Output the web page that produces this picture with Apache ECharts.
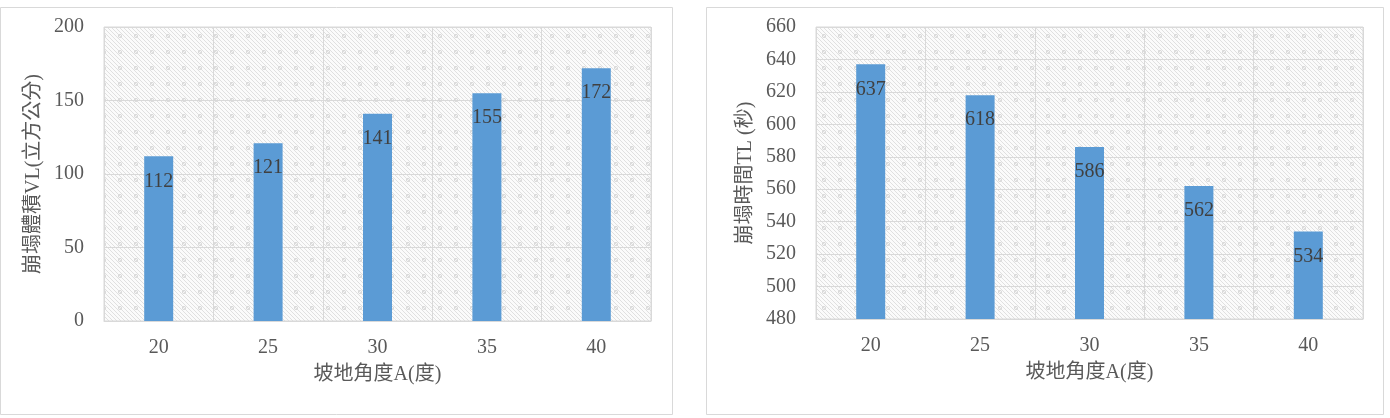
<!DOCTYPE html>
<html>
<head>
<meta charset="utf-8">
<script src="https://cdn.jsdelivr.net/npm/echarts@6/dist/echarts.min.js"></script>
<style>
  html, body { margin: 0; padding: 0; background: #fff; }
  #main { width: 1390px; height: 418px; }
</style>
</head>
<body>
<div id="main"></div>
<script>
  // 坡地角度
  var angles = ['20', '25', '30', '35', '40']
  // 崩塌體積 VL
  var volumeVL = [112, 121, 141, 155, 172]
  // 崩塌時間 TL
  var timeTL = [637, 618, 586, 562, 534]

  var leftTicks = { min: 0, max: 200, interval: 50 }
  var rightTicks = { min: 480, max: 660, interval: 20 }

  var FONT = '"Liberation Serif", "Noto Sans CJK TC", serif'
  var GRAY = '#595959'

  // hatched background like the Excel pattern fill
  function makePattern () {
    var c = document.createElement('canvas')
    c.width = 16
    c.height = 16
    var ctx = c.getContext('2d')
    ctx.fillStyle = '#fbfbfb'
    ctx.fillRect(0, 0, 16, 16)
    ctx.strokeStyle = '#e0e0e0'
    ctx.lineWidth = 1
    for (var k = -16; k <= 16; k += 4) {
      ctx.beginPath()
      ctx.moveTo(k, 0)
      ctx.lineTo(k + 16, 16)
      ctx.stroke()
    }
    ctx.strokeStyle = '#dadada'
    ctx.beginPath()
    ctx.arc(8, 4, 1.6, 0, Math.PI * 2)
    ctx.stroke()
    return c
  }
  var pattern = { image: makePattern(), repeat: 'repeat' }

  function xAxisFor (gridIndex) {
    return {
      type: 'category',
      gridIndex: gridIndex,
      data: angles,
      name: '坡地角度A(度)',
      nameLocation: 'middle',
      nameGap: 44,
      nameTextStyle: { fontFamily: FONT, fontSize: 20, color: GRAY },
      axisLine: { lineStyle: { color: '#d9d9d9', width: 1 } },
      axisTick: { show: false },
      axisLabel: { fontFamily: FONT, fontSize: 20, color: GRAY, margin: 17 },
      splitLine: { show: true, lineStyle: { color: '#d9d9d9', width: 1 } }
    }
  }

  function yAxisFor (gridIndex, ticks, name) {
    return {
      type: 'value',
      gridIndex: gridIndex,
      min: ticks.min,
      max: ticks.max,
      interval: ticks.interval,
      name: name,
      nameLocation: 'middle',
      nameGap: 60,
      nameTextStyle: { fontFamily: FONT, fontSize: 20, color: GRAY },
      axisLine: { show: false },
      axisTick: { show: false },
      axisLabel: { fontFamily: FONT, fontSize: 20, color: GRAY, margin: 20 },
      splitLine: { show: true, lineStyle: { color: '#d9d9d9', width: 1 } }
    }
  }

  function barFor (idx, values) {
    return {
      type: 'bar',
      xAxisIndex: idx,
      yAxisIndex: idx,
      data: values,
      barWidth: 29,
      itemStyle: { color: '#5b9bd5' },
      label: {
        show: true,
        position: 'insideTop',
        distance: 15,
        fontFamily: FONT,
        fontSize: 20,
        color: '#404040'
      }
    }
  }

  var chart = echarts.init(document.getElementById('main'))
  chart.setOption({
    animation: false,
    backgroundColor: '#fff',
    graphic: [
      {
        type: 'rect',
        shape: { x: 0.5, y: 7.5, width: 672, height: 407 },
        style: { fill: 'none', stroke: '#d9d9d9', lineWidth: 1 },
        z: -1
      },
      {
        type: 'rect',
        shape: { x: 706.5, y: 7.5, width: 677, height: 407 },
        style: { fill: 'none', stroke: '#d9d9d9', lineWidth: 1 },
        z: -1
      }
    ],
    grid: [
      { left: 104, top: 27, width: 547, height: 294, show: true, backgroundColor: pattern, borderColor: '#d9d9d9', borderWidth: 1 },
      { left: 816, top: 27, width: 547, height: 292, show: true, backgroundColor: pattern, borderColor: '#d9d9d9', borderWidth: 1 }
    ],
    xAxis: [xAxisFor(0), xAxisFor(1)],
    yAxis: [
      yAxisFor(0, leftTicks, '崩塌體積VL(立方公分)'),
      yAxisFor(1, rightTicks, '崩塌時間TL (秒)')
    ],
    series: [barFor(0, volumeVL), barFor(1, timeTL)]
  })
</script>
</body>
</html>
